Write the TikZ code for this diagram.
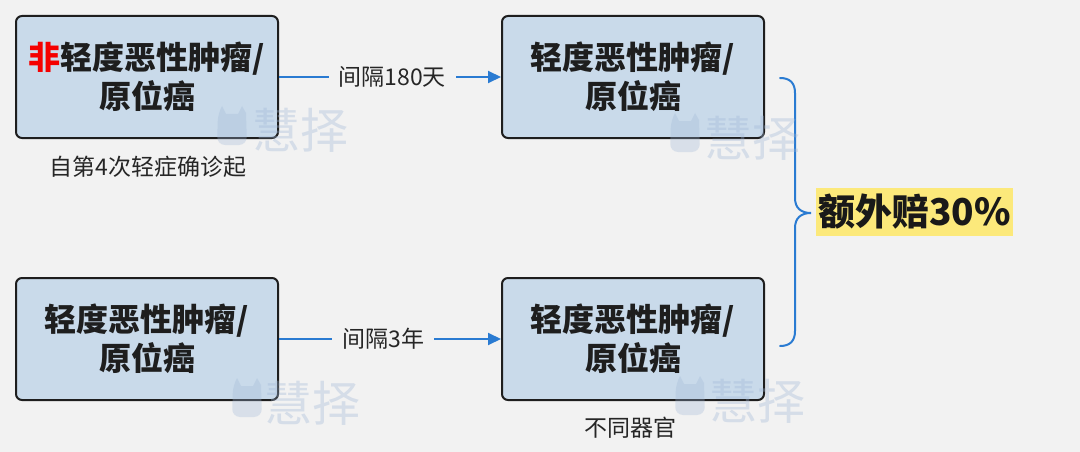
\documentclass[tikz,border=0pt]{standalone}
\usepackage{fontspec}
\setmainfont{Noto Sans CJK SC}
\usetikzlibrary{arrows.meta}
\definecolor{bg}{HTML}{F2F2F2}
\definecolor{boxfill}{HTML}{C9DAEA}
\definecolor{boxline}{HTML}{1E1E1E}
\definecolor{arrowblue}{HTML}{2A7BD2}
\definecolor{hl}{HTML}{FCE97B}
\definecolor{wm}{HTML}{9FB6D6}
\definecolor{redmark}{HTML}{F50000}
\tikzset{
  x=1pt, y=-1pt,
  stepbox/.style={draw=boxline, fill=boxfill, line width=2pt, rounded corners=6pt,
    minimum width=262pt, minimum height=122pt, align=center, inner sep=0pt,
    text=boxline, font=\bfseries\fontsize{32}{39}\selectfont},
  conn/.style={draw=arrowblue, line width=2pt, -{Triangle[length=13pt,width=12pt]}},
  gaplabel/.style={fill=bg, text=black!85, inner xsep=10pt, inner ysep=2pt,
    font=\fontsize{23}{26}\selectfont},
  note/.style={text=black!85, font=\fontsize{23}{26}\selectfont},
  brace/.style={draw=arrowblue, line width=2pt, line cap=round},
  wmtext/.style={text=wm, opacity=0.35, font=\fontsize{48}{52}\selectfont},
  wmblob/.style={fill=wm, opacity=0.3}
}
\newcommand{\mascot}[2]{%
  \fill[wmblob] (#1-14,#2-18) -- (#1-10,#2-25) -- (#1-6,#2-17) -- (#1+6,#2-17) -- (#1+10,#2-25) -- (#1+14,#2-18)
    [rounded corners=8pt] -- (#1+15,#2+14) -- (#1-15,#2+14) -- cycle;
}
\begin{document}
\begin{tikzpicture}
\useasboundingbox[fill=bg] (0,0) rectangle (1080,452);

\node[stepbox] (b1) at (147,77) {{\color{redmark}非}轻度恶性肿瘤/\\原位癌};
\node[stepbox] (b2) at (633,77) {轻度恶性肿瘤/\\原位癌};
\node[stepbox] (b3) at (147,339) {轻度恶性肿瘤/\\原位癌};
\node[stepbox] (b4) at (633,339) {轻度恶性肿瘤/\\原位癌};

\draw[conn] (b1.east) -- node[gaplabel, pos=0.51] (l1) {间隔180天} (b2.west);
\draw[conn] (b3.east) -- node[gaplabel, pos=0.47] (l2) {间隔3年} (b4.west);

\node[note] (n1) at (148,167) {自第4次轻症确诊起};
\node[note] (n2) at (630,428) {不同器官};

\coordinate (bt) at (780,78);
\coordinate (bb) at (780,346);
\coordinate (tip) at (811,213);
\draw[brace] (bt) .. controls (790,78) and (795,83) .. (795,93) -- (795,198)
  .. controls (795,208) and (801,213) .. (tip)
  .. controls (801,213) and (795,218) .. (795,228) -- (795,331)
  .. controls (795,341) and (790,346) .. (bb);

\node[fill=hl, minimum width=197pt, minimum height=48pt, inner sep=0pt,
  font=\bfseries\fontsize{37}{40}\selectfont, text=black!90] (res) at (914.5,212) {额外赔30\%};

% watermarks
\mascot{232}{131}
\node[wmtext] (w1) at (300,130) {慧择};
\mascot{685}{138}
\node[wmtext] (w2) at (752,138) {慧择};
\mascot{247}{403}
\node[wmtext] (w3) at (312,403) {慧择};
\mascot{690}{401}
\node[wmtext] (w4) at (757,401) {慧择};
\end{tikzpicture}
\end{document}
